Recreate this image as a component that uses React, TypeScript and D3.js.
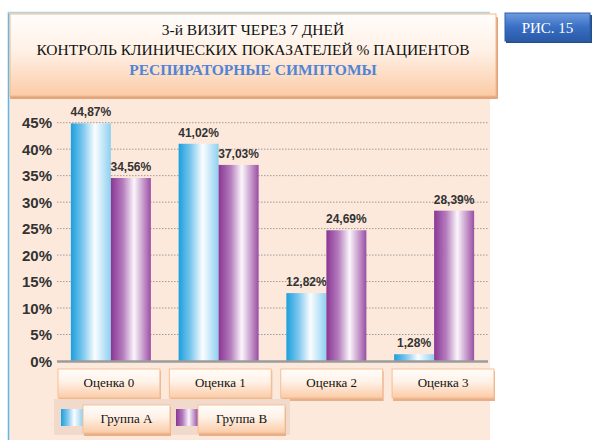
import React from "react";
import * as d3 from "d3";

const categories = ["Оценка 0", "Оценка 1", "Оценка 2", "Оценка 3"];
const groups = ["Группа А", "Группа В"];
const groupA = [44.87, 41.02, 12.82, 1.28];
const groupB = [34.56, 37.03, 24.69, 28.39];
const yTicks = [0, 5, 10, 15, 20, 25, 30, 35, 40, 45];
const titleLines = ["3-й ВИЗИТ ЧЕРЕЗ 7 ДНЕЙ", "КОНТРОЛЬ КЛИНИЧЕСКИХ ПОКАЗАТЕЛЕЙ % ПАЦИЕНТОВ"];
const subtitle = "РЕСПИРАТОРНЫЕ СИМПТОМЫ";
const badge = "РИС. 15";

const W = 600;
const H = 446;
const plotLeft = 57;
const plotRight = 488;
const yBase = 361;
const yTop = 122.7;

const fmt = (v: number) => v.toFixed(2).replace(".", ",") + "%";

const App = () => {
  const x = d3
    .scaleBand()
    .domain(categories)
    .range([plotLeft, plotRight])
    .paddingInner(0.2575)
    .paddingOuter(0.12875);
  const xg = d3.scaleBand().domain(groups).range([0, x.bandwidth()]);
  const y = d3.scaleLinear().domain([0, 45]).range([yBase, yTop]);
  const xBox = d3
    .scaleBand()
    .domain(categories)
    .range([58, 494])
    .paddingInner(0.085)
    .paddingOuter(0);

  const series = [
    { name: groups[0], values: groupA, fill: "url(#gradA)" },
    { name: groups[1], values: groupB, fill: "url(#gradB)" },
  ];

  const sans = "'Liberation Sans', Arial, sans-serif";
  const serif = "'Liberation Serif', 'Times New Roman', serif";

  return (
    <svg
      width={W}
      height={H}
      style={{ position: "absolute", left: 0, top: 0, background: "#fff" }}
    >
      <defs>
        <linearGradient id="gradA" x1="0" x2="1" y1="0" y2="0">
          <stop offset="0" stopColor="#1c9fdc" />
          <stop offset="0.3" stopColor="#7cc7ee" />
          <stop offset="0.6" stopColor="#fbfdff" />
          <stop offset="1" stopColor="#8dd0f1" />
        </linearGradient>
        <linearGradient id="gradB" x1="0" x2="1" y1="0" y2="0">
          <stop offset="0" stopColor="#8a3694" />
          <stop offset="0.3" stopColor="#b47cbd" />
          <stop offset="0.58" stopColor="#fbf6fb" />
          <stop offset="1" stopColor="#9a4ea4" />
        </linearGradient>
        <linearGradient id="gradBox" x1="0" x2="0" y1="0" y2="1">
          <stop offset="0" stopColor="#fffdfb" />
          <stop offset="0.45" stopColor="#fff1e6" />
          <stop offset="1" stopColor="#fbcba6" />
        </linearGradient>
        <linearGradient id="gradBadge" x1="0" x2="0" y1="0" y2="1">
          <stop offset="0" stopColor="#6f9be0" />
          <stop offset="0.5" stopColor="#3a6fc4" />
          <stop offset="1" stopColor="#2a5aa8" />
        </linearGradient>
      </defs>

      {/* panel */}
      <rect x={8} y={12} width={482} height={428} fill="#fde9dc" />
      <line x1={8.5} x2={8.5} y1={12} y2={440} stroke="#5fb8e6" strokeWidth={1.5} />
      <line x1={8} x2={490} y1={12.5} y2={12.5} stroke="#a9d6ee" strokeWidth={1.5} />

      {/* title box */}
      <rect x={10} y={17} width={488} height={82} fill="#e2a57c" rx={1} />
      <rect
        x={10}
        y={14}
        width={486}
        height={82}
        fill="url(#gradBox)"
        stroke="#f3b98c"
        strokeWidth={1}
      />
      {titleLines.map((t, i) => (
        <text
          key={t}
          x={253}
          y={35 + i * 20}
          textAnchor="middle"
          fontFamily={serif}
          fontSize={15.5}
          fill="#111"
        >
          {t}
        </text>
      ))}
      <text
        x={253}
        y={75}
        textAnchor="middle"
        fontFamily={serif}
        fontSize={15.5}
        fontWeight="bold"
        fill="#4f84d6"
      >
        {subtitle}
      </text>

      {/* badge */}
      <rect x={506} y={15} width={86} height={28} fill="#24508f" />
      <rect x={505} y={13} width={85} height={28} fill="url(#gradBadge)" stroke="#2d5ea8" />
      <text
        x={547.5}
        y={33}
        textAnchor="middle"
        fontFamily={serif}
        fontSize={15}
        fill="#fff"
      >
        {badge}
      </text>

      {/* grid and y axis */}
      {yTicks.map((t) => (
        <g key={t}>
          {t > 0 && (
            <line
              x1={plotLeft}
              x2={plotRight}
              y1={y(t)}
              y2={y(t)}
              stroke="#9a9a9a"
              strokeWidth={1}
              strokeDasharray="1.5,1.5"
            />
          )}
          <text
            x={52}
            y={y(t) + 5.5}
            textAnchor="end"
            fontFamily={sans}
            fontWeight="bold"
            fontSize={15}
            fill="#333"
          >
            {t}%
          </text>
        </g>
      ))}

      {/* bars */}
      {series.map((s) =>
        s.values.map((v, i) => {
          const bx = (x(categories[i]) ?? 0) + (xg(s.name) ?? 0);
          return (
            <g key={s.name + i}>
              <rect
                x={bx}
                y={y(v)}
                width={xg.bandwidth()}
                height={yBase - y(v)}
                fill={s.fill}
              />
              <text
                x={bx + xg.bandwidth() / 2}
                y={y(v) - 7}
                textAnchor="middle"
                fontFamily={sans}
                fontWeight="bold"
                fontSize={12}
                fill="#333"
              >
                {fmt(v)}
              </text>
            </g>
          );
        })
      )}

      {/* baseline */}
      <line x1={plotLeft} x2={plotRight} y1={yBase + 0.5} y2={yBase + 0.5} stroke="#9b9b9b" strokeWidth={2.5} />

      {/* category boxes */}
      {categories.map((c) => {
        const bx = xBox(c) ?? 0;
        const bw = xBox.bandwidth();
        return (
          <g key={c}>
            <rect x={bx + 1} y={371} width={bw} height={30} fill="#e7b08a" />
            <rect
              x={bx}
              y={369}
              width={bw}
              height={29}
              fill="url(#gradBox)"
              stroke="#f6bf94"
              strokeWidth={1}
            />
            <text
              x={bx + bw / 2}
              y={387}
              textAnchor="middle"
              fontFamily={serif}
              fontSize={13}
              fill="#111"
            >
              {c}
            </text>
          </g>
        );
      })}

      {/* legend */}
      <rect x={54} y={399} width={236} height={36} fill="#f1dacb" />
      {series.map((s, i) => {
        const lx = i === 0 ? 61 : 176;
        return (
          <g key={s.name}>
            <rect x={lx} y={409} width={22} height={17} fill={s.fill} />
            <rect x={lx + 23} y={407} width={87} height={29} fill="#e7b08a" />
            <rect
              x={lx + 22}
              y={405}
              width={87}
              height={28}
              fill="url(#gradBox)"
              stroke="#f6bf94"
              strokeWidth={1}
            />
            <text
              x={lx + 22 + 43.5}
              y={423}
              textAnchor="middle"
              fontFamily={serif}
              fontSize={13}
              fill="#111"
            >
              {s.name}
            </text>
          </g>
        );
      })}
    </svg>
  );
};

export default App;
